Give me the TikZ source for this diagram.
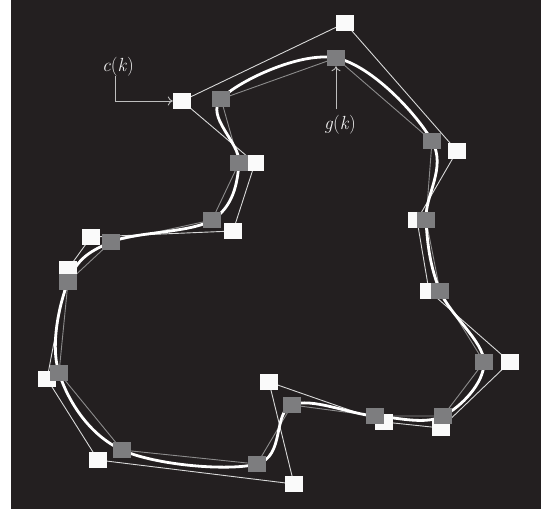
\documentclass[tikz,border=0pt]{standalone}
\usepackage{fontspec}
\usetikzlibrary{arrows.meta}
\definecolor{bgdark}{HTML}{231F20}
\definecolor{gsq}{HTML}{7D7D7F}
\definecolor{gline}{HTML}{8C8C8C}
\definecolor{wline}{HTML}{D8D8D8}
\definecolor{wsqc}{HTML}{FAFAFA}
\definecolor{labc}{HTML}{F0F0F0}
\definecolor{arrc}{HTML}{BEBEBE}
\tikzset{
  csq/.style={fill=wsqc,minimum width=18pt,minimum height=16pt,inner sep=0pt,draw=none},
  gsqs/.style={fill=gsq,minimum width=18pt,minimum height=16pt,inner sep=0pt,draw=none},
  cpoly/.style={draw=wline,line width=0.9pt,line join=round},
  gpoly/.style={draw=gline,line width=0.9pt,line join=round},
  curveline/.style={draw=white,line width=2.8pt,line join=round},
  lab/.style={text=labc,font=\fontsize{19}{22}\selectfont,inner sep=1pt},
  arr/.style={draw=arrc,line width=0.9pt,-{To[length=5pt,width=9pt]}}
}
\begin{document}
\begin{tikzpicture}[x=1pt,y=-1pt]
\useasboundingbox (0,0) rectangle (546,514);
\fill[bgdark] (11,0) rectangle (541,509);
% control points c(k)
\coordinate (pc1) at (182,101);
\coordinate (pc2) at (345,23);
\coordinate (pc3) at (457,151);
\coordinate (pc4) at (417,220);
\coordinate (pc5) at (429,291);
\coordinate (pc6) at (510,362);
\coordinate (pc7) at (441,428);
\coordinate (pc8) at (384,422);
\coordinate (pc9) at (269,382);
\coordinate (pc10) at (294,484);
\coordinate (pc11) at (98,460);
\coordinate (pc12) at (47,379);
\coordinate (pc13) at (68,269);
\coordinate (pc14) at (91,237);
\coordinate (pc15) at (233,231);
\coordinate (pc16) at (255,163);
% curve points g(k)
\coordinate (pg1) at (221,99);
\coordinate (pg2) at (336,58);
\coordinate (pg3) at (432,141);
\coordinate (pg4) at (426,220);
\coordinate (pg5) at (440,291);
\coordinate (pg6) at (484,362);
\coordinate (pg7) at (443,416);
\coordinate (pg8) at (375,416);
\coordinate (pg9) at (292,405);
\coordinate (pg10) at (257,464);
\coordinate (pg11) at (122,450);
\coordinate (pg12) at (59,373);
\coordinate (pg13) at (68,282);
\coordinate (pg14) at (111,242);
\coordinate (pg15) at (212,220);
\coordinate (pg16) at (239,163);
% polygons
\draw[cpoly] (pc1) -- (pc2) -- (pc3) -- (pc4) -- (pc5) -- (pc6) -- (pc7) -- (pc8) -- (pc9) -- (pc10) -- (pc11) -- (pc12) -- (pc13) -- (pc14) -- (pc15) -- (pc16) -- cycle;
\draw[gpoly] (pg1) -- (pg2) -- (pg3) -- (pg4) -- (pg5) -- (pg6) -- (pg7) -- (pg8) -- (pg9) -- (pg10) -- (pg11) -- (pg12) -- (pg13) -- (pg14) -- (pg15) -- (pg16) -- cycle;
% smooth curve
\draw[curveline] plot[smooth cycle,tension=0.6] coordinates {(221,99) (336,58) (432,141) (426,220) (440,291) (484,362) (443,416) (375,416) (292,405) (257,464) (122,450) (59,373) (68,282) (111,242) (212,220) (239,163)};
% squares
\foreach \i in {1,...,16} {\node[csq] (c\i) at (pc\i) {};}
\foreach \i in {1,...,16} {\node[gsqs] (g\i) at (pg\i) {};}
% labels
\node[lab] (lc) at (118,67) {\textit{c}(\textit{k})};
\node[lab] (lg) at (340,125) {\textit{g}(\textit{k})};
\draw[arr] ([xshift=-3pt,yshift=2pt]lc.south) |- (c1.west);
\draw[arr] ([xshift=-4pt,yshift=5pt]lg.north) -- (g2.south);
\end{tikzpicture}
\end{document}
